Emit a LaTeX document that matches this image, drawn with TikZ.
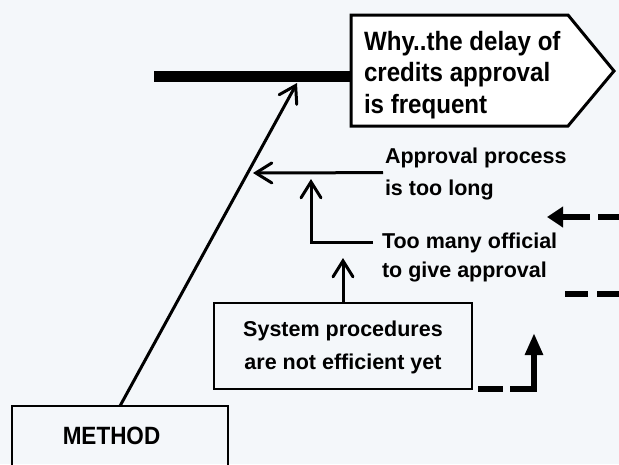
\documentclass[tikz,border=0pt]{standalone}
\usepackage{fontspec}
\setmainfont{Liberation Sans}
\newfontfamily\headfont[FakeStretch=0.91]{Liberation Sans}
\newfontfamily\methfont[FakeStretch=0.9]{Liberation Sans}
\usetikzlibrary{arrows.meta,calc}
\definecolor{bg}{RGB}{244,247,250}
\begin{document}
\begin{tikzpicture}[x=1pt,y=-1pt,
  box/.style={draw, line width=2.5pt, outer sep=0pt},
  txt/.style={inner sep=0pt, outer sep=0pt, align=left},
  arr/.style={line width=3pt, -{Straight Barb[length=16pt,width=20pt,line cap=round]}},
  dashline/.style={line width=5.5pt, line cap=butt}
]
\useasboundingbox[fill=bg] (0,0) rectangle (619,464);
\clip (0,0) rectangle (619,464);

% head (effect)
\draw[line width=3pt, fill=white, line join=miter] (351,15) -- (568,15) -- (614,71) -- (568,126) -- (351,126) -- cycle;
\coordinate (hdW) at (351,76.5);
\coordinate (spL) at (154,76.5);
\node[txt, anchor=north west, font=\headfont\bfseries\fontsize{26.5}{31.5}\selectfont] (head) at (364,27.95)
  {\strut Why..the delay of\\ credits approval\\ is frequent\strut};

% spine
\draw[line width=11pt] (spL) -- (hdW);

% boxes
\node[box, anchor=north west, minimum width=216pt, minimum height=60pt,
  font=\methfont\bfseries\fontsize{25}{30}\selectfont] (method) at (12,406) {\hspace*{-17pt}METHOD};
\node[box, minimum width=258pt, minimum height=86pt, align=center,
  font=\bfseries\fontsize{21.5}{33}\selectfont] (sys) at (343,346)
  {\strut System procedures\\ are not efficient yet\strut};

% cause texts
\node[txt, anchor=north west, font=\bfseries\fontsize{21.5}{32}\selectfont] (ap) at (385,140.6)
  {\strut Approval process\\ is too long\strut};
\node[txt, anchor=north west, font=\bfseries\fontsize{21.5}{29}\selectfont] (tm) at (382,227.7)
  {\strut Too many official\\ to give approval\strut};

% junction points
\coordinate (j1) at (297,83);
\coordinate (j2) at (253,173);
\coordinate (j3) at (311,179);
\coordinate (j4) at (343,258);
\coordinate (j5) at (534,333);

% connectors
\draw[arr] (method.north) -- (j1);
\draw[arr] ([xshift=-2pt]ap.west) -- (j2);
\draw[arr] ($(tm.north west)+(-9,14.3)$) -| (j3);
\draw[arr] (sys.north) -- (j4);

% dashed arrows
\coordinate (d1s) at (626,217);
\coordinate (d1e) at (547,217);
\coordinate (d2s) at (625,294);
\coordinate (d2e) at (565,294);
\draw[dashline, dash pattern=on 28pt off 8pt, -{Triangle[length=16pt,width=20pt]}] (d1s) -- (d1e);
\draw[dashline, dash pattern=on 28pt off 9pt] (d2s) -- (d2e);
\draw[dashline, dash pattern=on 25pt off 7pt on 80pt off 7pt, -{Triangle[length=22pt,width=17pt]}]
  ($(sys.south east)+(6,0)$) -| (j5);
\end{tikzpicture}
\end{document}
